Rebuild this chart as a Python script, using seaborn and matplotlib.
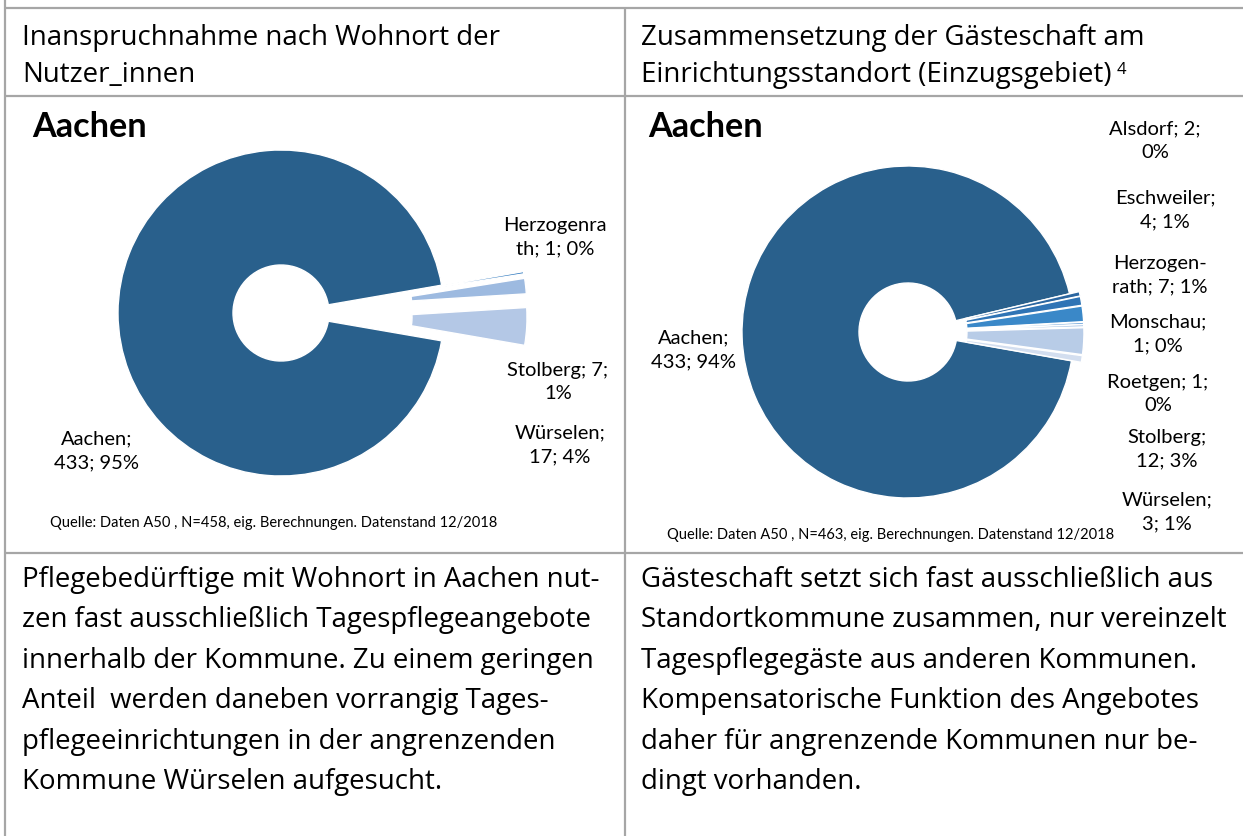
import matplotlib
matplotlib.use("Agg")
import matplotlib.pyplot as plt
import numpy as np
import pandas as pd
import seaborn as sns
from matplotlib.textpath import TextPath
from matplotlib.font_manager import FontProperties

# ---------------- data ----------------
left_places = ["Aachen", "Herzogenrath", "Stolberg", "Würselen"]
left_counts = [433, 1, 7, 17]
left_labels = ["Aachen;\n433; 95%", "Herzogenra\nth; 1; 0%", "Stolberg; 7;\n1%", "Würselen;\n17; 4%"]

right_places = ["Aachen", "Alsdorf", "Eschweiler", "Herzogenrath", "Monschau", "Roetgen", "Stolberg", "Würselen"]
right_counts = [433, 2, 4, 7, 1, 1, 12, 3]
right_labels = ["Aachen;\n433; 94%", "Alsdorf; 2;\n0%", "Eschweiler;\n4; 1%", "Herzogen-\nrath; 7; 1%",
                "Monschau;\n1; 0%", "Roetgen; 1;\n0%", "Stolberg;\n12; 3%", "Würselen;\n3; 1%"]

left_header = ["Inanspruchnahme nach Wohnort der", "Nutzer_innen"]
right_header = ["Zusammensetzung der Gästeschaft am", "Einrichtungsstandort (Einzugsgebiet)"]
right_header_sup = "4"
chart_title = "Aachen"
left_source = "Quelle: Daten A50 , N=458, eig. Berechnungen. Datenstand 12/2018"
right_source = "Quelle: Daten A50 , N=463, eig. Berechnungen. Datenstand 12/2018"
left_body = ["Pflegebedürftige mit Wohnort in Aachen nut-",
             "zen fast ausschließlich Tagespflegeangebote",
             "innerhalb der Kommune. Zu einem geringen",
             "Anteil  werden daneben vorrangig Tages-",
             "pflegeeinrichtungen in der angrenzenden",
             "Kommune Würselen aufgesucht."]
right_body = ["Gästeschaft setzt sich fast ausschließlich aus",
              "Standortkommune zusammen, nur vereinzelt",
              "Tagespflegegäste aus anderen Kommunen.",
              "Kompensatorische Funktion des Angebotes",
              "daher für angrenzende Kommunen nur be-",
              "dingt vorhanden."]

df_left = pd.DataFrame({"place": left_places, "count": left_counts, "label": left_labels})
df_right = pd.DataFrame({"place": right_places, "count": right_counts, "label": right_labels})

# ---------------- styles ----------------
sns.set_theme(style="white")
W, H = 1243, 836
fig = plt.figure(figsize=(W / 100, H / 100), dpi=100)
fig.patch.set_facecolor("white")

BODY_FONT = "Open Sans"
LABEL_FONT = "Lato"
TXT = "black"


def text_w(s, family, weight="normal", size=100):
    fp = FontProperties(family=family, weight=weight)
    return TextPath((0, 0), s, size=size, prop=fp).get_extents().width


def fit(s, target_px, family, weight="normal"):
    return target_px * 72.0 / text_w(s, family, weight)


hdr_size = fit(right_header[0], 501, BODY_FONT)
body_size = fit(left_body[-1], 415, BODY_FONT)
title_size = fit(chart_title, 113, LABEL_FONT, "bold")
label_size = fit("Eschweiler;", 97, LABEL_FONT)
src_size = fit(left_source, 443, LABEL_FONT)

# overlay axes in pixel coordinates for table lines and texts
ax0 = fig.add_axes([0, 0, 1, 1])
ax0.set_xlim(0, W)
ax0.set_ylim(H, 0)
ax0.axis("off")

line_kw = dict(color="#A6A6A6", lw=1.6, solid_capstyle="butt")
ax0.plot([5, W], [8, 8], **line_kw)
ax0.plot([5, W], [96, 96], **line_kw)
ax0.plot([5, W], [553, 553], **line_kw)
ax0.plot([5, 5], [0, H], **line_kw)
ax0.plot([625, 625], [8, H], **line_kw)

# headers
for i, s in enumerate(left_header):
    ax0.text(22, 38 + i * 37, s, fontsize=hdr_size, family=BODY_FONT, va="center", ha="left", color=TXT)
for i, s in enumerate(right_header):
    ax0.text(641, 38 + i * 37, s, fontsize=hdr_size, family=BODY_FONT, va="center", ha="left", color=TXT)
hdr_end = 641 + text_w(right_header[1], BODY_FONT) * hdr_size / 72.0
ax0.text(hdr_end + 8, 70, right_header_sup, fontsize=hdr_size * 0.6, family=BODY_FONT,
         va="center", ha="left", color=TXT)

# titles
ax0.text(32, 127, chart_title, fontsize=title_size, family=LABEL_FONT, weight="bold", va="center", ha="left", color=TXT)
ax0.text(648, 127, chart_title, fontsize=title_size, family=LABEL_FONT, weight="bold", va="center", ha="left", color=TXT)

# sources
ax0.text(50, 523, left_source, fontsize=src_size, family=LABEL_FONT, va="center", ha="left", color=TXT)
ax0.text(667, 535, right_source, fontsize=src_size, family=LABEL_FONT, va="center", ha="left", color=TXT)

# body texts
for i, s in enumerate(left_body):
    ax0.text(22, 580 + i * 40.4, s, fontsize=body_size, family=BODY_FONT, va="center", ha="left", color=TXT)
for i, s in enumerate(right_body):
    ax0.text(641, 580 + i * 40.4, s, fontsize=body_size, family=BODY_FONT, va="center", ha="left", color=TXT)

# ---------------- pies ----------------
def donut(df, cx, cy, R, rin, half, colors, explode, startangle):
    ax = fig.add_axes([(cx - half) / W, 1 - (cy + half) / H, 2 * half / W, 2 * half / H])
    ax.patch.set_alpha(0)
    ax.pie(df["count"], explode=explode, colors=colors, startangle=startangle,
           counterclock=False, radius=1,
           wedgeprops=dict(width=(R - rin) / R, edgecolor="white", linewidth=1.0))
    ax.set_xlim(-half / R, half / R)
    ax.set_ylim(-half / R, half / R)
    ax.set_aspect("auto")
    ax.axis("off")
    return ax

left_colors = ["#29608C", "#2E78BE", "#9DBAE0", "#B4C8E6"]
left_share = sum(left_counts[1:]) / sum(left_counts) * 360
donut(df_left, 281, 313, 163, 48, 270, left_colors,
      [0] + [0.51] * (len(left_counts) - 1), -left_share / 2)

right_colors = ["#29608C", "#2B66A0", "#2F74B5", "#3A88C8", "#6FA5DA", "#A0C0E4", "#B8CCE7", "#D3DEEF"]
donut(df_right, 908, 332, 166, 49, 200, right_colors,
      [0] + [0.06] * (len(right_counts) - 1), -10)

# data labels (positions in pixels)
left_label_pos = [(97, 451), (555, 237), (558, 382), (560, 445)]
right_label_pos = [(694, 350), (1155, 141), (1165, 210), (1160, 275), (1158, 334),
                   (1158, 394), (1167, 449), (1167, 512)]
for (x, y), s in zip(left_label_pos, df_left["label"]):
    ax0.text(x, y, s, fontsize=label_size, family=LABEL_FONT, ha="center", va="center",
             linespacing=1.45, color=TXT)
for (x, y), s in zip(right_label_pos, df_right["label"]):
    ax0.text(x, y, s, fontsize=label_size, family=LABEL_FONT, ha="center", va="center",
             linespacing=1.45, color=TXT)

fig.savefig("out.png", dpi=100, facecolor="white")
